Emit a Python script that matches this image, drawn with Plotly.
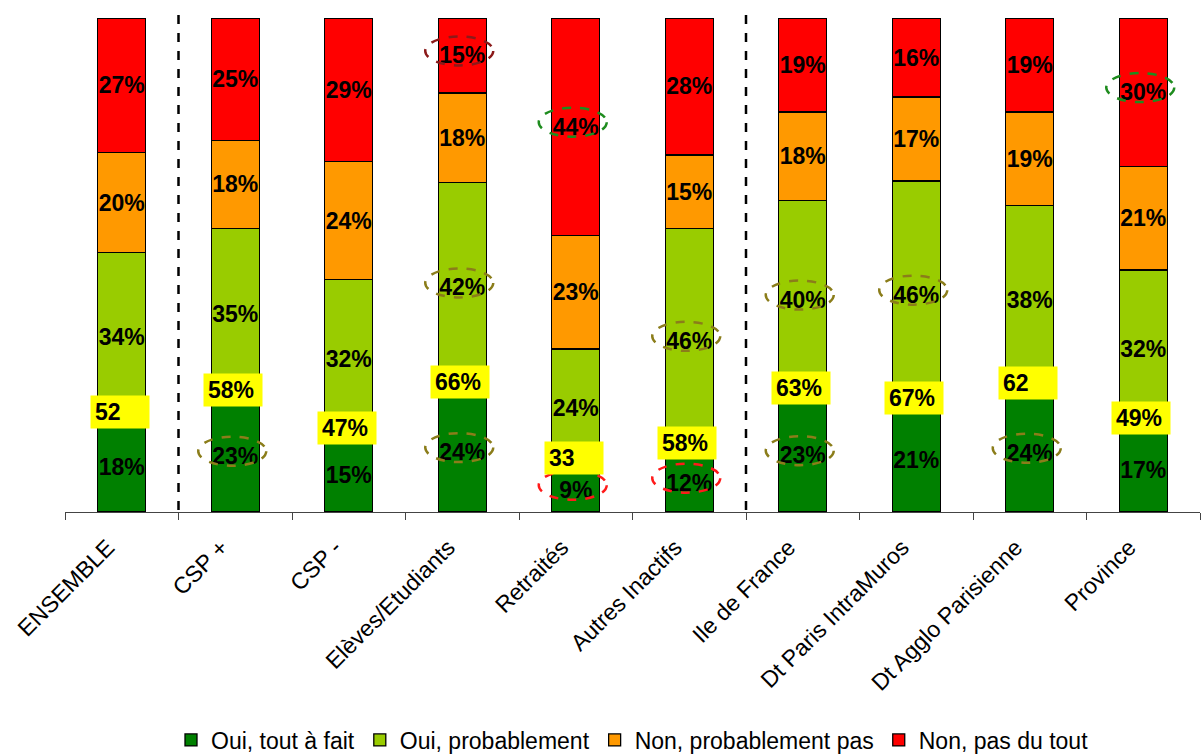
import plotly.graph_objects as go

# Survey answers by population group (percent of respondents)
categories = ["ENSEMBLE", "CSP +", "CSP -", "Elèves/Etudiants", "Retraités",
              "Autres Inactifs", "Ile de France", "Dt Paris IntraMuros",
              "Dt Agglo Parisienne", "Province"]
oui_tout_a_fait = [18, 23, 15, 24, 9, 12, 23, 21, 24, 17]
oui_probablement = [34, 35, 32, 42, 24, 46, 40, 46, 38, 32]
non_probablement_pas = [20, 18, 24, 18, 23, 15, 18, 17, 19, 21]
non_pas_du_tout = [27, 25, 29, 15, 44, 28, 19, 16, 19, 30]

series_names = ["Oui, tout à fait", "Oui, probablement",
                "Non, probablement pas", "Non, pas du tout"]
series_values = [oui_tout_a_fait, oui_probablement,
                 non_probablement_pas, non_pas_du_tout]
series_colors = ["#008000", "#99CC00", "#FF9900", "#FF0000"]

# Suffix shown after the "Oui" total in the yellow boxes
total_suffix = ["", "%", "%", "%", "", "%", "%", "%", "", "%"]

# Highlighted labels: (category index, series index, ellipse colour)
highlights = [
    (1, 0, "#8B7D1A"), (3, 0, "#8B7D1A"), (3, 1, "#8B7D1A"), (3, 3, "#8B1A1A"),
    (4, 0, "#FF1A1A"), (4, 3, "#1E8C1E"), (5, 0, "#FF1A1A"), (5, 1, "#8B7D1A"),
    (6, 0, "#8B7D1A"), (6, 1, "#8B7D1A"), (7, 1, "#8B7D1A"), (8, 0, "#8B7D1A"),
    (9, 3, "#1E8C1E"),
]

FONT = "Liberation Sans, Arial, sans-serif"

fig = go.Figure()
for name, vals, col in zip(series_names, series_values, series_colors):
    fig.add_trace(go.Bar(
        x=categories, y=vals, name=name,
        marker=dict(color=col, line=dict(color="#000000", width=1.3)),
        text=[f"{v}%" for v in vals],
        textposition="inside", insidetextanchor="middle",
        textangle=0, constraintext="none",
        textfont=dict(family=FONT, size=23, color="#000000", weight="bold"),
    ))

# Row totals used to normalise each bar to 100 %
row_totals = [sum(s[i] for s in series_values) for i in range(len(categories))]

def share(i, upto):
    """Cumulative normalised share of the first `upto` series for category i."""
    return 100.0 * sum(series_values[k][i] for k in range(upto)) / row_totals[i]

annotations = []
for i, cat in enumerate(categories):
    total = oui_tout_a_fait[i] + oui_probablement[i]
    annotations.append(dict(
        x=i, y=share(i, 1), xref="x", yref="y",
        text=f"<b>{total}{total_suffix[i]}</b>",
        showarrow=False, xanchor="center", yanchor="bottom",
        xshift=-2, yshift=-7, width=50, height=24, borderpad=4,
        align="left", valign="middle", bgcolor="#FFFF00",
        font=dict(family=FONT, size=23, color="#000000"),
    ))

shapes = []
# dashed separators between groups of categories
for xb in (0.5, 5.5):
    shapes.append(dict(type="line", xref="x", yref="paper",
                       x0=xb, x1=xb, y0=0.004, y1=1.02,
                       line=dict(color="#000000", width=2.5, dash="dash")))

# dashed ellipses around highlighted values
for ci, si, col in highlights:
    yc = (share(ci, si) + share(ci, si + 1)) / 2
    shapes.append(dict(type="circle", xref="x", yref="y",
                       xsizemode="pixel", ysizemode="pixel",
                       xanchor=ci, yanchor=yc,
                       x0=-37, x1=31, y0=-10, y1=19,
                       line=dict(color=col, width=2.5, dash="dash")))

fig.update_layout(
    width=1202, height=755,
    margin=dict(l=65, r=2, t=18, b=243, autoexpand=False),
    barmode="stack", barnorm="percent", bargap=0.577,
    plot_bgcolor="#FFFFFF", paper_bgcolor="#FFFFFF",
    font=dict(family=FONT, color="#000000"),
    xaxis=dict(
        type="category", range=[-0.5, 9.5], automargin=False,
        tickangle=-45, tickfont=dict(family=FONT, size=23, color="#000000"),
        ticklabelstandoff=12, ticklabelshift=-14,
        ticks="outside", tickson="boundaries", ticklen=7,
        tickcolor="#444444", showline=True, linecolor="#444444", linewidth=1,
        showgrid=False, zeroline=False,
    ),
    yaxis=dict(range=[0, 100], visible=False, showgrid=False, automargin=False),
    showlegend=True,
    legend=dict(orientation="h", x=0.5, xanchor="center",
                y=-0.4615, yanchor="middle", traceorder="normal",
                font=dict(family=FONT, size=23, color="#000000"),
                itemwidth=30, bgcolor="rgba(0,0,0,0)"),
    annotations=annotations,
    shapes=shapes,
)

fig.write_html("out.html")
